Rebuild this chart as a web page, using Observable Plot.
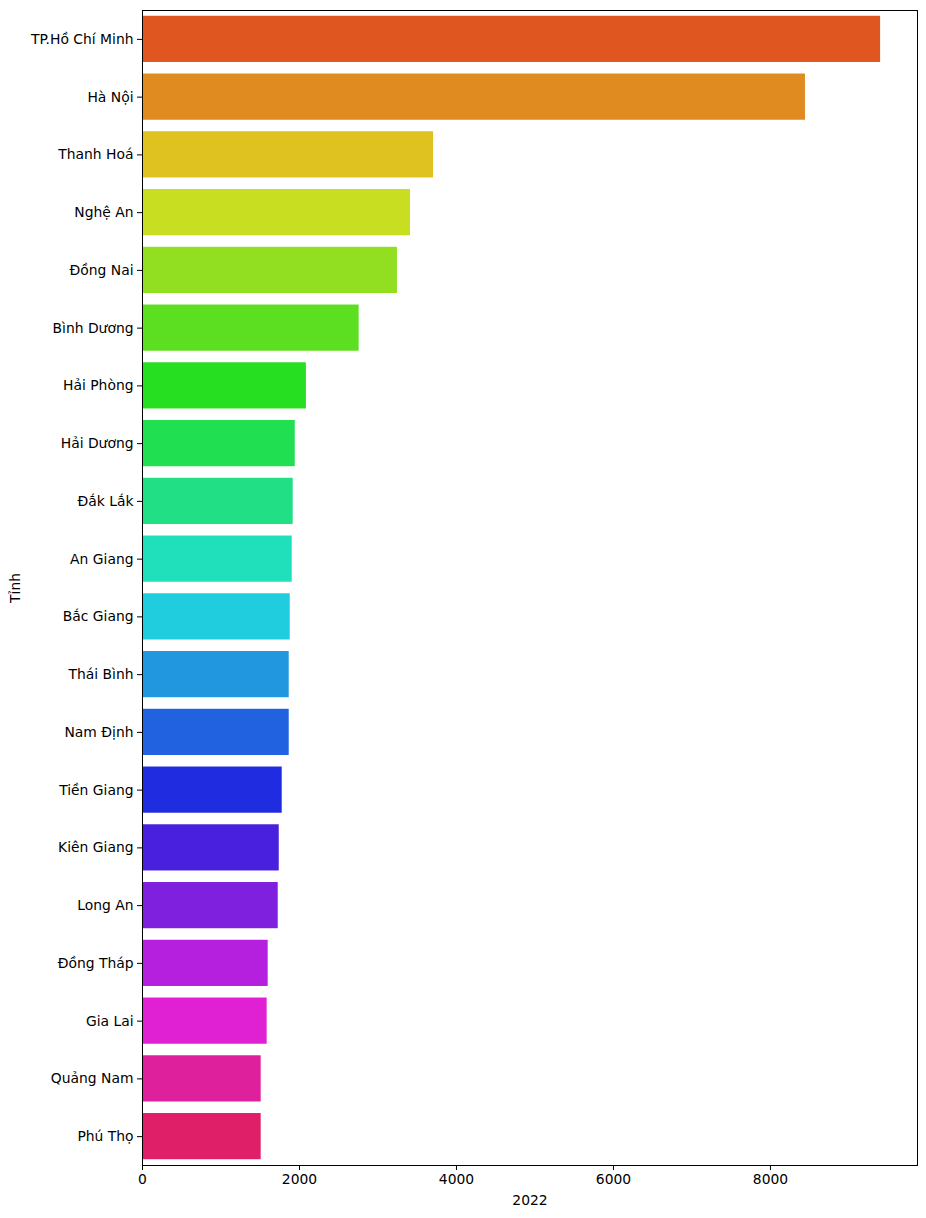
<!DOCTYPE html>
<html>
<head>
<meta charset="utf-8">
<script src="https://cdn.jsdelivr.net/npm/d3@7"></script>
<script src="https://cdn.jsdelivr.net/npm/@observablehq/plot@0.6"></script>
<style>
  html, body { margin: 0; padding: 0; background: white; }
</style>
</head>
<body>
<div id="chart"></div>
<script>
const provinces = ["TP.Hồ Chí Minh", "Hà Nội", "Thanh Hoá", "Nghệ An", "Đồng Nai", "Bình Dương", "Hải Phòng", "Hải Dương", "Đắk Lắk", "An Giang", "Bắc Giang", "Thái Bình", "Nam Định", "Tiền Giang", "Kiên Giang", "Long An", "Đồng Tháp", "Gia Lai", "Quảng Nam", "Phú Thọ"];
const values2022 = [9403, 8446, 3707, 3414, 3248, 2760, 2088, 1946, 1920, 1907, 1882, 1869, 1869, 1780, 1742, 1729, 1601, 1588, 1512, 1512];
const barColors = ["#DF5620", "#DF8B20", "#DFC120", "#C7DF20", "#91DF20", "#5CDF20", "#26DF20", "#20DF50", "#20DF85", "#20DFBB", "#20CDDF", "#2097DF", "#2062DF", "#202CDF", "#4A20DF", "#8020DF", "#B520DF", "#DF20D3", "#DF209D", "#DF2068"];
const xTicks = [0, 2000, 4000, 6000, 8000];
const xLabel = "2022";
const yLabel = "Tỉnh";

const data = provinces.map((p, i) => ({province: p, value: values2022[i]}));
const xMax = d3.max(values2022) * 1.05;

const chart = Plot.plot({
  width: 926,
  height: 1218,
  marginLeft: 142,
  marginRight: 9,
  marginTop: 10,
  marginBottom: 53,
  style: {fontFamily: "DejaVu Sans", fontSize: "13.89px", color: "black", background: "white"},
  x: {domain: [0, xMax], label: null},
  y: {domain: provinces, paddingInner: 0.2, paddingOuter: 0.1, round: false, label: null},
  color: {domain: provinces, range: barColors},
  marks: [
    Plot.barX(data, {x: "value", y: "province", fill: "province"}),
    Plot.frame({stroke: "black", strokeWidth: 1}),
    Plot.axisX({ticks: xTicks, tickSize: 5, tickPadding: 4, tickFormat: d => String(d), label: xLabel, labelAnchor: "center", labelArrow: "none", labelOffset: 39}),
    Plot.axisY({tickSize: 5, tickPadding: 4, label: yLabel, labelAnchor: "center", labelArrow: "none", labelOffset: 132})
  ]
});
document.getElementById("chart").appendChild(chart);
</script>
</body>
</html>
